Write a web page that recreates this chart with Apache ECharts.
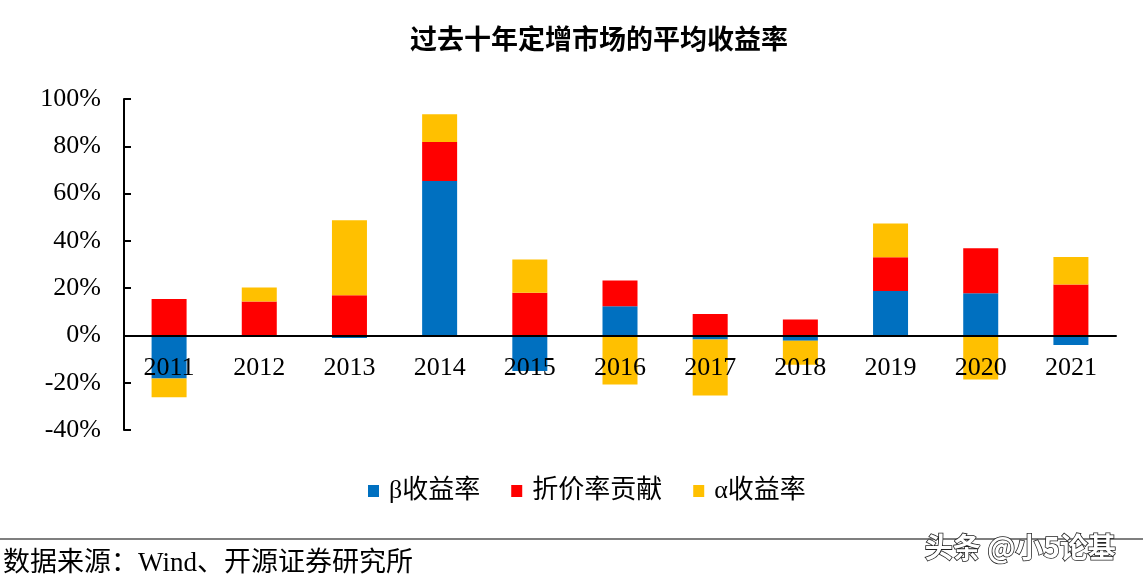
<!DOCTYPE html>
<html>
<head>
<meta charset="utf-8">
<script src="https://cdn.jsdelivr.net/npm/echarts@6/dist/echarts.min.js"></script>
<style>
html,body{margin:0;padding:0;background:#fff;}
#chart{width:1143px;height:586px;}
</style>
</head>
<body>
<div id="chart"></div>
<script>
const categories = ['2011','2012','2013','2014','2015','2016','2017','2018','2019','2020','2021'];
const betaReturn = [-18.2, 0, -1.1, 65.3, -15.0, 12.3, -1.7, -2.3, 18.8, 17.8, -4.1];
const discountContribution = [15.4, 14.3, 17.0, 16.5, 18.0, 10.9, 9.1, 6.7, 14.3, 19.1, 21.5];
const alphaReturn = [-7.9, 6.0, 31.7, 11.8, 14.1, -20.8, -23.7, -10.1, 14.2, -18.6, 11.7];
const seriesNames = ['β收益率', '折价率贡献', 'α收益率'];
const yTicks = { min: -40, max: 100, interval: 20 };

const serif = '"Liberation Serif", "Times New Roman", "Noto Sans CJK SC", serif';
const cjk = '"Noto Sans CJK SC", sans-serif';
const chart = echarts.init(document.getElementById('chart'));
const colors = ['#0070C0', '#FF0000', '#FFC000'];
const gridTop = 99, gridBottom = 156, H = 586;
const plotH = H - gridTop - gridBottom;
const zeroOffset = -plotH * (0 - yTicks.min) / (yTicks.max - yTicks.min);
const mk = (name, data, i) => ({
  name, type: 'bar', stack: 'total', data, barWidth: 35,
  itemStyle: { color: colors[i] }
});
chart.setOption({
  animation: false,
  backgroundColor: '#fff',
  title: {
    text: '过去十年定增市场的平均收益率',
    left: 405, top: 20,
    textStyle: { fontFamily: cjk, fontWeight: 'bold', fontSize: 27, color: '#000' }
  },
  legend: {
    data: seriesNames,
    left: 363, top: 473,
    itemWidth: 11, itemHeight: 12, itemGap: 31,
    icon: 'rect',
    textStyle: { fontFamily: serif, fontSize: 26, color: '#000', padding: [0,0,0,5] }
  },
  grid: { left: 124, right: 27, top: gridTop, bottom: gridBottom, containLabel: false },
  xAxis: {
    type: 'category', data: categories, z: 10,
    offset: zeroOffset,
    axisLine: { onZero: false, lineStyle: { color: '#000', width: 2 } },
    axisTick: { inside: true, length: 8, lineStyle: { color: '#000', width: 2 } },
    axisLabel: { fontFamily: serif, fontSize: 26, color: '#000', margin: 20 },
    splitLine: { show: false }
  },
  yAxis: {
    type: 'value', min: yTicks.min, max: yTicks.max, interval: yTicks.interval,
    axisLine: { show: true, lineStyle: { color: '#000', width: 2 } },
    axisTick: { show: true, inside: true, length: 7, lineStyle: { color: '#000', width: 2 } },
    axisLabel: { fontFamily: serif, fontSize: 26, color: '#000', margin: 23, formatter: '{value}%' },
    splitLine: { show: false }
  },
  series: [
    mk(seriesNames[0], betaReturn, 0),
    mk(seriesNames[1], discountContribution, 1),
    mk(seriesNames[2], alphaReturn, 2)
  ],
  graphic: [
    { type: 'line', shape: { x1: 0, y1: 539, x2: 1143, y2: 539 }, style: { stroke: '#000', lineWidth: 1.2 } },
    { type: 'text', left: 3, top: 550, style: { text: '数据来源：Wind、开源证券研究所', font: '27px ' + serif, fill: '#000' } },
    { type: 'text', left: 924, top: 533, z: 20, style: { text: '头条 @小5论基', font: 'bold 28px ' + cjk, fill: '#fff', stroke: '#222', lineWidth: 1.6 } }
  ]
});
</script>
</body>
</html>
